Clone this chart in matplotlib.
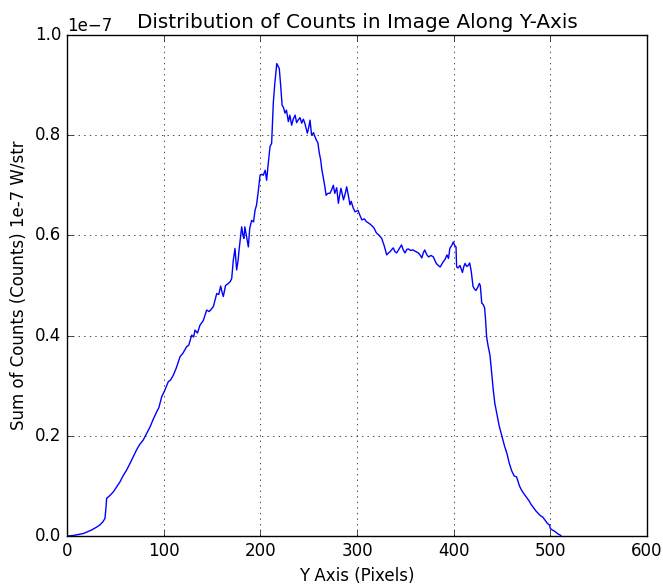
import numpy as np
import matplotlib
matplotlib.use("Agg")
import matplotlib.pyplot as plt

# Y pixel positions
pixels = [0, 6.5, 12, 17, 22, 25.5, 30, 34, 37, 39.3, 40.5, 41, 42.7, 45, 47.9, 51, 54.8, 58,
          61.8, 66, 69, 72, 75, 79, 82, 86, 89, 92.8, 95, 98, 101, 104.8, 107, 110, 113, 117,
          120, 123.8, 126, 129, 131, 132.4, 135, 137.6, 141, 144.5, 147, 149, 151.4, 153,
          154.9, 157, 159, 160.5, 161.7, 164, 166.9, 169, 170.4, 172, 173.8, 175.5, 177, 178,
          180.7, 182, 183, 184, 185.5, 187.6, 189, 191, 193, 194.5, 196, 198, 199.7, 201.5,
          203, 205, 206.5, 208, 210, 211.7, 213.4, 215, 217, 219.6, 221, 222.5, 224, 225.5,
          227, 229, 230.5, 232.4, 234, 236, 237.5, 239, 241, 242.8, 244.5, 246, 248.6, 250,
          251.4, 253, 255, 256.5, 258, 259.5, 261, 262.5, 263.4, 265, 266.5, 268, 270, 272,
          273.5, 275.5, 277, 279, 280.7, 282, 283.4, 285, 286, 288, 289.3, 291, 292.7, 294,
          296, 298, 301, 303, 305, 307.5, 310, 312.5, 315, 317.5, 320, 323, 325.5, 328, 330.7,
          332.5, 334, 336, 337.5, 339, 341, 343.5, 346, 348, 349.6, 351.5, 353, 355.5, 358,
          360.5, 363.5, 365.5, 367, 368.5, 370, 372, 374, 376.5, 379, 380.5, 382, 384, 386,
          387.5, 389, 391, 393, 394.6, 396, 398, 399.6, 401, 402.4, 403, 404.5, 406.5, 409,
          410.5, 411.7, 413.5, 415, 416.5, 418, 420, 421.5, 423, 425, 426.5, 427.5, 429, 430.5,
          432, 433, 434, 435.5, 437.5, 439, 441, 442.5, 444.5, 447, 450, 452.5, 455, 457.5,
          460, 462.5, 465, 468, 470, 472, 475, 478, 480, 482, 485, 488, 490, 492, 495, 497,
          499, 500, 502, 504, 506, 508, 510, 511]

# Sum of counts, in units of 1e-7 W/str
counts_e7 = [0.000, 0.001, 0.003, 0.005, 0.009, 0.012, 0.017, 0.022, 0.028, 0.035, 0.060, 0.075,
             0.078, 0.082, 0.088, 0.097, 0.108, 0.120, 0.132, 0.148, 0.160, 0.172, 0.182, 0.192,
             0.203, 0.218, 0.232, 0.248, 0.256, 0.278, 0.290, 0.308, 0.311, 0.321, 0.335, 0.358,
             0.365, 0.378, 0.381, 0.401, 0.397, 0.411, 0.405, 0.421, 0.430, 0.451, 0.448, 0.452,
             0.458, 0.470, 0.484, 0.482, 0.499, 0.486, 0.478, 0.500, 0.504, 0.508, 0.514, 0.550,
             0.574, 0.531, 0.550, 0.571, 0.617, 0.600, 0.594, 0.617, 0.600, 0.577, 0.614, 0.630,
             0.627, 0.650, 0.660, 0.690, 0.720, 0.722, 0.720, 0.730, 0.710, 0.740, 0.777, 0.784,
             0.864, 0.904, 0.943, 0.933, 0.900, 0.860, 0.855, 0.844, 0.850, 0.827, 0.840, 0.820,
             0.832, 0.840, 0.825, 0.830, 0.835, 0.824, 0.832, 0.824, 0.804, 0.815, 0.830, 0.800,
             0.805, 0.797, 0.790, 0.785, 0.764, 0.750, 0.734, 0.717, 0.700, 0.680, 0.684, 0.684,
             0.690, 0.700, 0.684, 0.695, 0.664, 0.680, 0.694, 0.680, 0.671, 0.685, 0.697, 0.680,
             0.661, 0.668, 0.655, 0.647, 0.650, 0.640, 0.631, 0.633, 0.627, 0.624, 0.620, 0.615,
             0.605, 0.600, 0.594, 0.580, 0.561, 0.565, 0.567, 0.572, 0.575, 0.568, 0.565, 0.573,
             0.581, 0.570, 0.565, 0.572, 0.573, 0.570, 0.571, 0.568, 0.565, 0.560, 0.555, 0.565,
             0.571, 0.562, 0.557, 0.560, 0.557, 0.550, 0.544, 0.540, 0.537, 0.542, 0.547, 0.552,
             0.561, 0.554, 0.574, 0.580, 0.587, 0.580, 0.577, 0.537, 0.535, 0.540, 0.526, 0.538,
             0.544, 0.538, 0.540, 0.545, 0.530, 0.498, 0.493, 0.490, 0.497, 0.504, 0.500, 0.465,
             0.462, 0.455, 0.430, 0.398, 0.380, 0.361, 0.330, 0.290, 0.265, 0.245, 0.220, 0.198,
             0.180, 0.165, 0.145, 0.130, 0.120, 0.118, 0.100, 0.092, 0.086, 0.078, 0.070, 0.063,
             0.058, 0.050, 0.044, 0.040, 0.038, 0.030, 0.025, 0.022, 0.015, 0.012, 0.010, 0.007,
             0.004, 0.002, 0.000]

scale = 1e-7
counts = np.array(counts_e7) * scale

plt.style.use('classic')
fig = plt.figure(figsize=(6.63, 5.86), dpi=100, facecolor='white')
ax = fig.add_axes([0.101, 0.0853, 0.875, 0.855])
ax.plot(pixels, counts, color='b', linewidth=1.0)
ax.set_xlim(0, 600)
ax.set_ylim(0, 1e-7)
ax.set_xticks([0, 100, 200, 300, 400, 500, 600])
ax.set_yticks(np.array([0.0, 0.2, 0.4, 0.6, 0.8, 1.0]) * scale)
ax.grid(True, color='black', linestyle=':', linewidth=0.5)
ax.set_title("Distribution of Counts in Image Along Y-Axis")
ax.set_xlabel("Y Axis (Pixels)")
ax.set_ylabel("Sum of Counts (Counts) 1e-7 W/str")
fig.savefig("out.png", dpi=100, facecolor='white')
